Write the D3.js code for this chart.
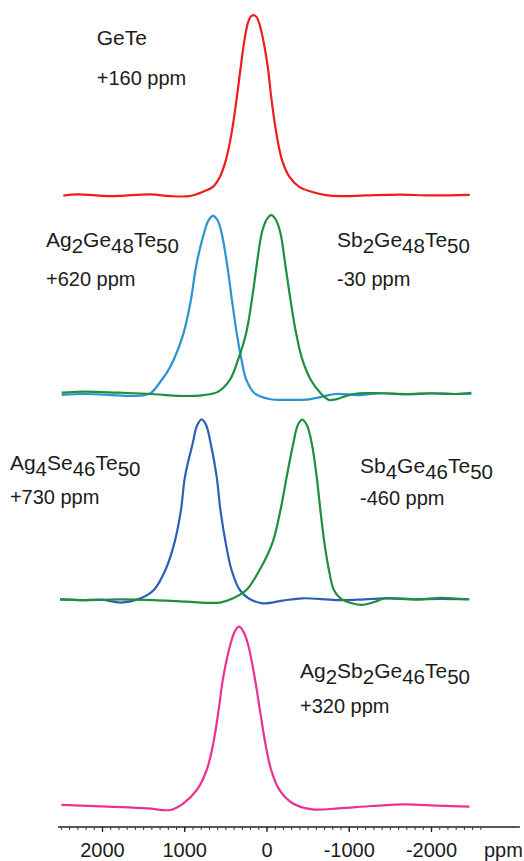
<!DOCTYPE html>
<html><head><meta charset="utf-8">
<script src="https://cdn.jsdelivr.net/npm/d3@7"></script>
<style>
body{margin:0;background:#fff}
svg{display:block}
text{font-family:"Liberation Sans",Arial,sans-serif;fill:#1c1c1c}
</style>
</head><body>
<svg id="chart" width="524" height="861"></svg>
<script>
// ---- data: [ppm, relative intensity] ----
const geTe = [[2470,-0.003],[2300,0.004],[1890,-0.006],[1410,0.004],[1170,-0.006],[930,-0.005],[771,0.019],[651,0.046],[566,0.102],[494,0.194],[425,0.343],[365,0.528],[313,0.713],[272,0.85],[228,0.954],[194,0.99],[158,1.0],[122,0.99],[88,0.954],[35,0.85],[-15,0.713],[-62,0.528],[-120,0.343],[-189,0.194],[-277,0.102],[-398,0.046],[-558,0.017],[-720,0.0],[-900,-0.006],[-1200,-0.002],[-1600,0.003],[-2000,-0.002],[-2470,0.001]];
const ag2Ge48Te50 = [[2490,-0.005],[2200,0.0],[1800,-0.008],[1660,-0.01],[1500,-0.008],[1400,0.008],[1295,0.065],[1210,0.12],[1129,0.189],[1009,0.337],[919,0.522],[857,0.707],[760,0.893],[705,0.965],[650,0.989],[595,0.965],[545,0.893],[475,0.707],[420,0.522],[362,0.337],[303,0.189],[245,0.078],[145,0.004],[-36,-0.028],[-277,-0.033],[-518,-0.03],[-678,-0.015],[-840,0.0],[-1121,-0.006],[-1400,0.004],[-1700,-0.002],[-2000,0.003],[-2300,0.0],[-2490,0.002]];
const sb2Ge48Te50 = [[2490,0.007],[2200,0.013],[1800,0.007],[1400,0.0],[1050,-0.011],[768,-0.006],[587,0.013],[446,0.078],[346,0.189],[248,0.337],[178,0.522],[122,0.707],[58,0.893],[0,0.968],[-57,0.994],[-114,0.968],[-170,0.893],[-232,0.707],[-292,0.522],[-360,0.337],[-437,0.189],[-539,0.078],[-659,0.004],[-759,-0.033],[-840,-0.03],[-1000,-0.006],[-1121,0.004],[-1400,0.004],[-1700,0.0],[-2000,0.004],[-2300,0.0],[-2490,0.006]];
const ag4Se46Te50 = [[2510,-0.002],[2250,-0.006],[2000,-0.004],[1771,-0.02],[1530,0.004],[1370,0.05],[1229,0.161],[1121,0.309],[1040,0.494],[991,0.68],[897,0.865],[843,0.965],[788,0.998],[733,0.965],[679,0.865],[606,0.68],[560,0.494],[495,0.309],[425,0.161],[325,0.05],[205,0.0],[45,-0.024],[-196,-0.009],[-437,0.004],[-840,-0.006],[-1100,-0.004],[-1442,0.004],[-1800,-0.002],[-2100,0.0],[-2446,-0.002]];
const sb4Ge46Te50 = [[2510,-0.002],[2173,-0.006],[1771,-0.002],[1370,-0.006],[968,-0.015],[566,-0.02],[406,0.004],[245,0.05],[84,0.161],[-70,0.309],[-170,0.494],[-246,0.68],[-326,0.865],[-380,0.965],[-434,0.996],[-492,0.965],[-550,0.865],[-610,0.68],[-655,0.494],[-705,0.309],[-759,0.161],[-819,0.05],[-900,0.004],[-1040,-0.024],[-1160,-0.033],[-1322,-0.015],[-1442,0.004],[-1844,-0.002],[-2121,0.007],[-2467,-0.002]];
const ag2Sb2Ge46Te50 = [[2494,0.006],[1932,-0.004],[1450,-0.013],[1169,-0.022],[1009,0.015],[847,0.089],[727,0.2],[647,0.348],[582,0.533],[525,0.718],[435,0.904],[385,0.97],[334,0.996],[283,0.97],[228,0.904],[145,0.718],[80,0.533],[14,0.348],[-57,0.2],[-157,0.089],[-317,0.015],[-558,-0.019],[-880,-0.013],[-1281,0.0],[-1683,0.009],[-2085,0.002],[-2467,-0.004]];

// stacking levels (vertical offset of each trace baseline, in intensity units)
const levels = [3.394, 2.289, 1.15, 0];

const majorTicks = [2000, 1000, 0, -1000, -2000];
const minorTicks = d3.range(2500, -2601, -100);
const axisUnit = "ppm";

// labels: name (digits become subscripts) and shift text
const labelNames  = ["GeTe", "Ag2Ge48Te50", "Sb2Ge48Te50", "Ag4Se46Te50", "Sb4Ge46Te50", "Ag2Sb2Ge46Te50"];
const labelShifts = ["+160 ppm", "+620 ppm", "-30 ppm", "+730 ppm", "-460 ppm", "+320 ppm"];

// ---- layout / style ----
const series = [
  {data: geTe,           level: levels[0], color: "#f01c1c"},
  {data: ag2Ge48Te50,    level: levels[1], color: "#2b93d1"},
  {data: sb2Ge48Te50,    level: levels[1], color: "#1f8f3c"},
  {data: ag4Se46Te50,    level: levels[2], color: "#2e5fb6"},
  {data: sb4Ge46Te50,    level: levels[2], color: "#1f8f3c"},
  {data: ag2Sb2Ge46Te50, level: levels[3], color: "#ec3190"}
];
const labelPos = [
  {ppm: 2064, v: 4.228, v2: 4.006},
  {ppm: 2681, v: 3.106, v2: 2.889},
  {ppm: -857, v: 3.106, v2: 2.889},
  {ppm: 3120, v: 1.867, v2: 1.678},
  {ppm: -1137, v: 1.85, v2: 1.672},
  {ppm: -407, v: 0.711, v2: 0.517}
];

const svg = d3.select("#chart");
const x = d3.scaleLinear().domain([2000, -2000]).range([102, 431]);
const y = d3.scaleLinear().domain([0, 4.4]).range([806, 806 - 4.4 * 180]);

const line = d3.line()
  .x(d => x(d[0]))
  .y(d => y(d[1]))
  .curve(d3.curveCatmullRom.alpha(0.5));

svg.append("g").selectAll("path")
  .data(series)
  .join("path")
  .attr("fill", "none")
  .attr("stroke", s => s.color)
  .attr("stroke-width", 2.2)
  .attr("stroke-linejoin", "round")
  .attr("d", s => line(s.data.map(p => [p[0], p[1] + s.level])));

// axis
const axisY = 827;
const gAxis = svg.append("g").attr("transform", `translate(0,${axisY})`);
gAxis.append("line")
  .attr("x1", x(2535)).attr("x2", x(-3080))
  .attr("stroke", "#222").attr("stroke-width", 1.3);
const minorAxis = d3.axisBottom(x).tickValues(minorTicks).tickSize(3).tickSizeOuter(0).tickFormat("");
const gMinor = gAxis.append("g").call(minorAxis);
gMinor.select(".domain").remove();
gMinor.selectAll(".tick line").attr("stroke", "#333").attr("stroke-width", 1);
const majorAxis = d3.axisBottom(x).tickValues(majorTicks).tickSize(5).tickSizeOuter(0)
  .tickPadding(11).tickFormat(d => String(d));
const gMajor = gAxis.append("g").call(majorAxis);
gMajor.select(".domain").remove();
gMajor.selectAll(".tick line").attr("stroke", "#222").attr("stroke-width", 1.3);
gMajor.selectAll(".tick text")
  .attr("fill", "#1c1c1c")
  .style("font-family", '"Liberation Sans", Arial, sans-serif')
  .style("font-size", "20px");
svg.append("text")
  .attr("x", 484).attr("y", 857)
  .style("font-size", "20px")
  .text(axisUnit);

// labels
const gLab = svg.append("g");
labelNames.forEach((name, i) => {
  const p = labelPos[i];
  const t = gLab.append("text")
    .attr("x", x(p.ppm)).attr("y", y(p.v))
    .style("font-size", "21px");
  const parts = name.match(/[A-Za-z]+|\d+/g);
  let shifted = false;
  parts.forEach(part => {
    const isSub = /^\d+$/.test(part);
    const ts = t.append("tspan").text(part);
    if (isSub) {
      ts.style("font-size", "20.5px");
      if (!shifted) { ts.attr("dy", 6); shifted = true; }
    } else if (shifted) { ts.attr("dy", -6); shifted = false; }
  });
  gLab.append("text")
    .attr("x", x(p.ppm)).attr("y", y(p.v2))
    .style("font-size", "20px")
    .text(labelShifts[i]);
});
</script>
</body></html>
